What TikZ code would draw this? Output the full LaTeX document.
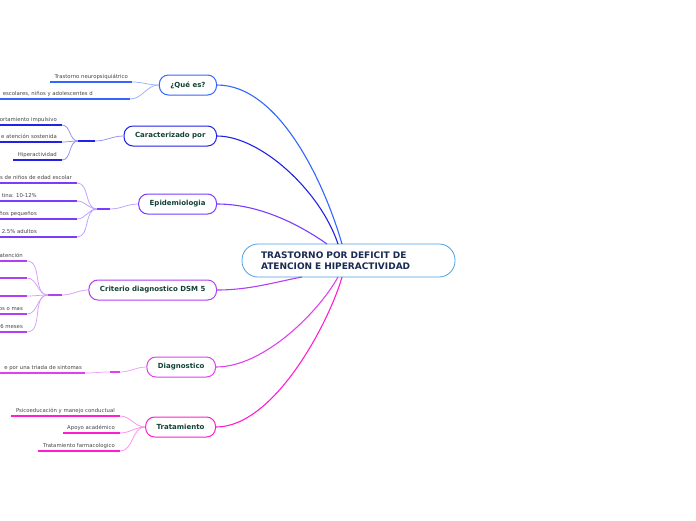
\documentclass[tikz,border=0pt]{standalone}
\usepackage{fontspec}
\setmainfont{DejaVu Sans}
\usepackage{xcolor}
\usetikzlibrary{positioning}
\definecolor{centreclr}{RGB}{77,160,224}
\definecolor{centretxt}{RGB}{27,42,82}
\definecolor{topictxt}{RGB}{19,66,54}
\definecolor{subtxtclr}{RGB}{68,68,68}
\definecolor{brA}{RGB}{51,102,255}
\definecolor{brB}{RGB}{34,34,230}
\definecolor{brC}{RGB}{122,60,255}
\definecolor{brD}{RGB}{176,64,240}
\definecolor{brE}{RGB}{224,64,240}
\definecolor{brF}{RGB}{255,30,207}
\tikzset{
  % Nodo central
  central/.style = {draw=centreclr, fill=white, line width=0.8pt,
                    rounded corners=16pt, minimum width=213pt, minimum height=33pt,
                    text width=175pt, align=left, inner xsep=19pt,
                    font=\fontsize{9}{11.5}\selectfont\bfseries, text=centretxt},
  % Temas principales
  topic/.style   = {fill=white, line width=1pt, rounded corners=9pt,
                    minimum height=20pt, inner xsep=11pt, anchor=east,
                    font=\fontsize{7}{8}\selectfont\bfseries, text=topictxt},
  % Subtemas
  subtxt/.style  = {font=\fontsize{5.35}{6}\selectfont, text=subtxtclr,
                    inner xsep=4.5pt, inner ysep=0pt, anchor=base east},
  uline/.style   = {line width=1.3pt},
  knob/.style    = {line width=1.9pt},
  subcon/.style  = {line width=0.75pt},
  branch/.style  = {line width=1.1pt},
}
\begin{document}
\begin{tikzpicture}[x=1pt, y=-1pt]
  \clip (0,0) rectangle (696,520);
  % Nodo central
  \node[central] (centro) at (348.5,260.5) {TRASTORNO POR DEFICIT DE\\ATENCION E HIPERACTIVIDAD};
  \coordinate (cA) at (342,244);
  \coordinate (cB) at (338,244);
  \coordinate (cC) at (327,244);
  \coordinate (cD) at (302,277);
  \coordinate (cE) at (338,277);
  \coordinate (cF) at (342,277);
  % Temas
  \node[topic, draw=brA] (que)   at (217,85)  {¿Qué es?};
  \node[topic, draw=brB] (carac) at (217,136) {Caracterizado por};
  \node[topic, draw=brC] (epid)  at (217,204) {Epidemiologia};
  \node[topic, draw=brD] (crit)  at (217,290) {Criterio diagnostico DSM 5};
  \node[topic, draw=brE] (diag)  at (216,367) {Diagnostico};
  \node[topic, draw=brF] (trat)  at (216,427) {Tratamiento};
  % Ramas al nodo central
  \draw[branch, brA] (que.east) .. controls (280,85) and (325,185) .. (cA);
  \draw[branch, brB] (carac.east) .. controls (260,136) and (320,190) .. (cB);
  \draw[branch, brC] (epid.east) .. controls (260,204) and (300,225) .. (cC);
  \draw[branch, brD] (crit.east) .. controls (250,290) and (275,282) .. (cD);
  \draw[branch, brE] (diag.east) .. controls (265,367) and (320,310) .. (cE);
  \draw[branch, brF] (trat.east) .. controls (275,427) and (330,320) .. (cF);
  % ¿Que es?
  \node[subtxt] (q1) at (132.5,78) {Trastorno neuropsiquiátrico};
  \node[subtxt] (q2) at (97.5,95) {escolares, niños y adolescentes d};
  \draw[uline, brA] (q1.west |- 0,82) -- (132,82) coordinate (q1e);
  \draw[uline, brA] (-5,99) -- (130,99) coordinate (q2e);
  \draw[knob, brA] (120,99) -- (q2e);
  \draw[subcon, brA!50] (q1e) to[out=0,in=180] (que.west);
  \draw[subcon, brA!50] (q2e) to[out=0,in=180] (que.west);
  % Caracterizado por
  \node[subtxt] (ca1) at (61.5,121) {ortamiento impulsivo};
  \node[subtxt] (ca2) at (61.5,138) {e atención sostenida};
  \node[subtxt] (ca3) at (61.5,156) {Hiperactividad};
  \draw[uline, brB] (-5,125) -- (62,125) coordinate (ca1e);
  \draw[uline, brB] (-5,142) -- (62,142) coordinate (ca2e);
  \draw[uline, brB] (ca3.west |- 0,160) -- (62,160) coordinate (ca3e);
  \draw[knob, brB] (78,141) coordinate (caj) -- (95,141) coordinate (cak);
  \foreach \s in {ca1e,ca2e,ca3e}
    \draw[subcon, brB!50] (\s) to[out=0,in=180] (caj);
  \draw[subcon, brB!50] (cak) to[out=0,in=180] (carac.west);
  % Epidemiologia
  \node[subtxt] (ep1) at (76.5,179) {s de niños de edad escolar};
  \node[subtxt] (ep2) at (41.5,197) {tina: 10-12\%};
  \node[subtxt] (ep3) at (41.5,215) {ños pequeños};
  \node[subtxt] (ep4) at (41.5,233) {2.5\% adultos};
  \draw[uline, brC] (-5,183) -- (77,183) coordinate (ep1e);
  \draw[uline, brC] (-5,201) -- (77,201) coordinate (ep2e);
  \draw[uline, brC] (-5,219) -- (77,219) coordinate (ep3e);
  \draw[uline, brC] (-5,237) -- (77,237) coordinate (ep4e);
  \draw[knob, brC] (67,201) -- (ep2e);
  \draw[knob, brC] (67,219) -- (ep3e);
  \draw[knob, brC] (67,237) -- (ep4e);
  \draw[knob, brC] (97,209) coordinate (epj) -- (110,209) coordinate (epk);
  \foreach \s in {ep1e,ep2e,ep3e,ep4e}
    \draw[subcon, brC!50] (\s) to[out=0,in=180] (epj);
  \draw[subcon, brC!50] (epk) to[out=0,in=180] (epid.west);
  % Criterio diagnostico DSM 5
  \node[subtxt] (cr1) at (27.5,257) {atención};
  \node[subtxt] (cr4) at (27.5,310) {os o mas};
  \node[subtxt] (cr5) at (27.5,328) {6 meses};
  \draw[uline, brD] (-5,261) -- (27,261) coordinate (cr1e);
  \draw[uline, brD] (-5,278) -- (27,278) coordinate (cr2e);
  \draw[uline, brD] (-5,296) -- (27,296) coordinate (cr3e);
  \draw[uline, brD] (-5,314) -- (27,314) coordinate (cr4e);
  \draw[uline, brD] (-5,332) -- (27,332) coordinate (cr5e);
  \draw[knob, brD] (17,278) -- (cr2e);
  \draw[knob, brD] (17,296) -- (cr3e);
  \draw[knob, brD] (48,295) coordinate (crj) -- (62,295) coordinate (crk);
  \foreach \s in {cr1e,cr2e,cr3e,cr4e,cr5e}
    \draw[subcon, brD!50] (\s) to[out=0,in=180] (crj);
  \draw[subcon, brD!50] (crk) to[out=0,in=180] (crit.west);
  % Diagnostico
  \node[subtxt] (dg1) at (86.5,369) {e por una triada de sintomas};
  \draw[uline, brE] (-5,373) -- (85,373) coordinate (dg1e);
  \draw[knob, brE] (110,372) coordinate (dgj) -- (120,372) coordinate (dgk);
  \draw[subcon, brE!50] (dg1e) to[out=0,in=180] (dgj);
  \draw[subcon, brE!50] (dgk) to[out=0,in=180] (diag.west);
  % Tratamiento
  \node[subtxt] (tr1) at (119.5,412) {Psicoeducación y manejo conductual};
  \node[subtxt] (tr2) at (119.5,429) {Apoyo académico};
  \node[subtxt] (tr3) at (119.5,447) {Tratamiento farmacologico};
  \draw[uline, brF] (tr1.west |- 0,416) -- (120,416) coordinate (tr1e);
  \draw[uline, brF] (tr2.west |- 0,433) -- (120,433) coordinate (tr2e);
  \draw[uline, brF] (tr3.west |- 0,451) -- (120,451) coordinate (tr3e);
  \foreach \s in {tr1e,tr2e,tr3e}
    \draw[subcon, brF!50] (\s) to[out=0,in=180] (trat.west);
\end{tikzpicture}
\end{document}
